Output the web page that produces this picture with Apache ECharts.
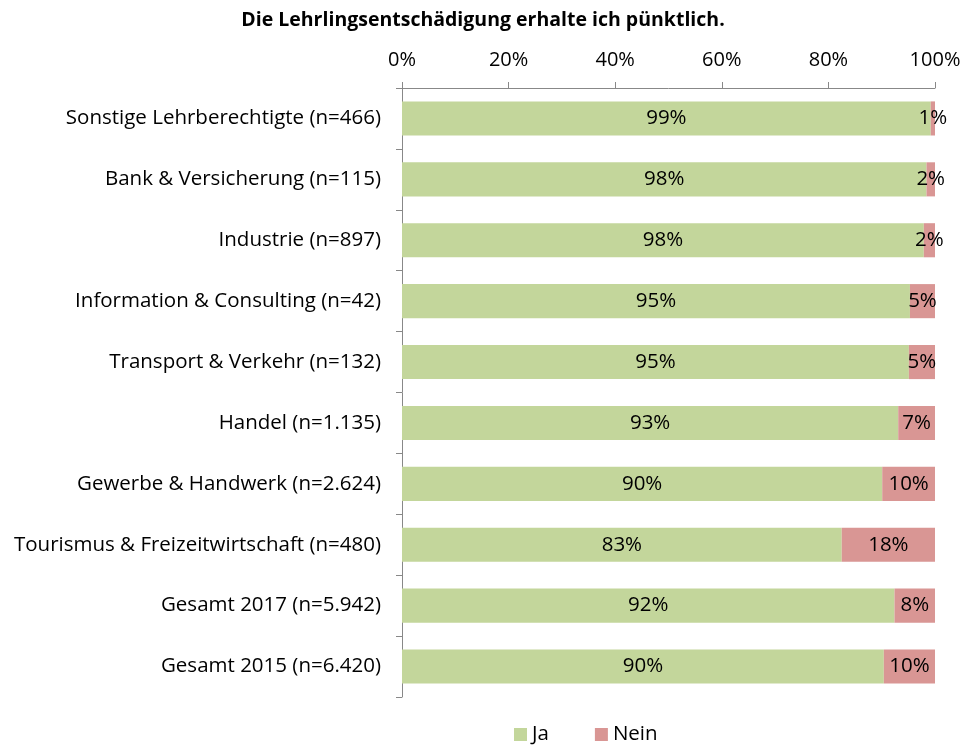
<!DOCTYPE html>
<html lang="de">
<head>
    <meta charset="UTF-8">
    <title>Lehrlingsentschädigung</title>
</head>
<body style="margin: 0">
<div id="container" style="height: 746px; width: 966px;"></div>
<script type="text/javascript" src="https://cdn.jsdelivr.net/npm/echarts@6/dist/echarts.min.js"></script>
<script type="text/javascript">
    const categories = [
        'Sonstige Lehrberechtigte (n=466)',
        'Bank & Versicherung (n=115)',
        'Industrie (n=897)',
        'Information & Consulting (n=42)',
        'Transport & Verkehr (n=132)',
        'Handel (n=1.135)',
        'Gewerbe & Handwerk (n=2.624)',
        'Tourismus & Freizeitwirtschaft (n=480)',
        'Gesamt 2017 (n=5.942)',
        'Gesamt 2015 (n=6.420)'
    ];
    const jaValues = [99.2, 98.4, 97.9, 95.3, 95.1, 93.1, 90.1, 82.5, 92.4, 90.4];
    const neinValues = [0.8, 1.6, 2.1, 4.7, 4.9, 6.9, 9.9, 17.5, 7.6, 9.6];
    const xTicks = [0, 20, 40, 60, 80, 100];

    const font = '"Open Sans", Lato, sans-serif';
    const dom = document.getElementById('container');
    const myChart = echarts.init(dom);

    const barLabel = {
        show: true,
        position: 'inside',
        color: '#000',
        fontSize: 20.5,
        fontFamily: font,
        formatter: function (p) {
            return Math.round(p.value) + '%';
        }
    };

    const option = {
        animation: false,
        title: {
            text: 'Die Lehrlingsentschädigung erhalte ich pünktlich.',
            left: 'center',
            top: 5,
            textStyle: {fontSize: 19.5, fontWeight: 'bold', fontFamily: font, color: '#000'}
        },
        legend: {
            top: 719,
            left: 509,
            itemWidth: 13,
            itemHeight: 13,
            itemGap: 46,
            icon: 'rect',
            textStyle: {fontSize: 20.5, fontFamily: font, color: '#000'},
            data: ['Ja', 'Nein']
        },
        grid: {left: 402, right: 31, top: 88, bottom: 49},
        xAxis: {
            type: 'value',
            position: 'top',
            min: xTicks[0],
            max: xTicks[xTicks.length - 1],
            interval: 20,
            splitLine: {show: false},
            axisLine: {show: true, lineStyle: {color: '#888'}},
            axisTick: {show: true, length: 6, lineStyle: {color: '#888'}},
            axisLabel: {
                formatter: '{value}%',
                fontSize: 20,
                fontFamily: font,
                color: '#000',
                margin: 18
            }
        },
        yAxis: {
            type: 'category',
            inverse: true,
            data: categories,
            axisLine: {show: true, lineStyle: {color: '#888'}},
            axisTick: {show: true, length: 6, interval: 0, lineStyle: {color: '#888'}},
            axisLabel: {
                fontSize: 20.5,
                fontFamily: font,
                color: '#000',
                margin: 21
            }
        },
        series: [
            {
                name: 'Ja',
                type: 'bar',
                stack: 'total',
                barWidth: '56%',
                data: jaValues,
                itemStyle: {color: '#c3d69b'},
                label: barLabel
            },
            {
                name: 'Nein',
                type: 'bar',
                stack: 'total',
                data: neinValues,
                itemStyle: {color: '#d99694'},
                label: barLabel
            }
        ]
    };
    myChart.setOption(option);
</script>
</body>
</html>
